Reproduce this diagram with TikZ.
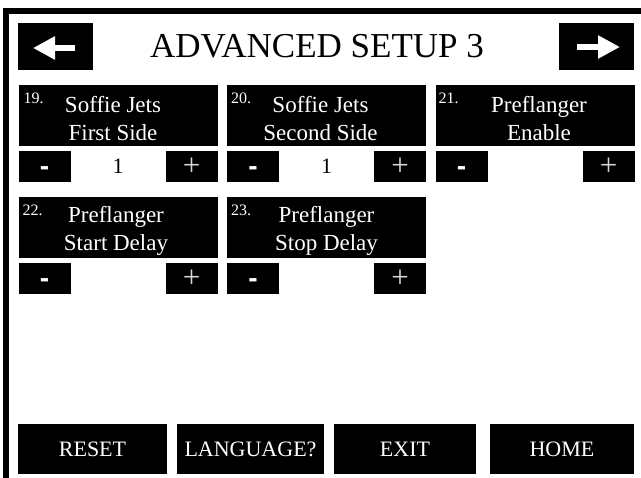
\documentclass[tikz,border=0pt]{standalone}
\usepackage{fontspec}
\setmainfont{Liberation Serif}
\newfontfamily\signfont{Liberation Sans}
\usetikzlibrary{arrows.meta,positioning}
\tikzset{%
    key/.style={fill=black,text=white,inner sep=0pt,outer sep=0pt},
    item/.style={key,minimum width=199pt,minimum height=61pt},
    btn/.style={key,minimum width=52pt,minimum height=31pt},
    bar/.style={key,minimum height=50pt,font=\fontsize{22}{26}\selectfont},
    nav/.style={key,minimum width=75pt,minimum height=47pt},
    num/.style={text=white,inner sep=0pt,anchor=north west,font=\fontsize{16}{16}\selectfont},
    itemtext/.style={text=white,inner sep=0pt,align=center,yshift=-3.5pt,font=\fontsize{23}{28}\selectfont},
    val/.style={inner sep=0pt,font=\fontsize{22}{22}\selectfont},
    plusbtn/.style={btn,text=white!85!black,font=\fontsize{31}{31}\selectfont},
    minusbtn/.style={btn,text height=19pt,text depth=0pt,font=\signfont\bfseries\fontsize{28}{28}\selectfont},
    navarrow/.style={white,line width=6pt,-{Triangle[length=22pt,width=22pt]}}
}

\begin{document}
\begin{tikzpicture}[x=1pt,y=-1pt]
    \useasboundingbox (0,0) rectangle (641,478);
    \draw[line width=6pt] (5.5,478) -- (5.5,11) -- (641,11);
    %%%%% header
    \node [nav] (back) at (55.5,46.5) {};
    \node [nav] (next) at (596.5,46.5) {};
    \node [anchor=base,inner sep=0pt,font=\fontsize{35}{35}\selectfont] (title) at (317,58) {ADVANCED SETUP 3};
    \draw[navarrow] ([shift={(19.5pt,-1.5pt)}]back.center) -- ([shift={(-22.5pt,-1.5pt)}]back.center);
    \draw[navarrow] ([shift={(-19.5pt,-0.5pt)}]next.center) -- ([shift={(23.5pt,-0.5pt)}]next.center);
    %%%%% first row
    \node [item] (s19) at (118,115.5) {};
    \node [item,right=9.5pt of s19] (s20) {};
    \node [item,right=9.5pt of s20] (s21) {};
    \node [num] (s19-n) at ([shift={(5pt,-8pt)}]s19.north west) {19.};
    \node [num] (s20-n) at ([shift={(4pt,-8pt)}]s20.north west) {20.};
    \node [num] (s21-n) at ([shift={(3pt,-8pt)}]s21.north west) {21.};
    \node [itemtext,xshift=-5pt] (s19-t) at (s19) {Soffie Jets\\First Side};
    \node [itemtext,xshift=-6pt] (s20-t) at (s20) {Soffie Jets\\Second Side};
    \node [itemtext,xshift=4pt] (s21-t) at (s21) {Preflanger\\Enable};
    \node [minusbtn,below right=5pt and 0pt of s19.south west] (s19-m) {-};
    \node [plusbtn,below left=5pt and 0pt of s19.south east] (s19-p) {+};
    \node [minusbtn,below right=5pt and 0pt of s20.south west] (s20-m) {-};
    \node [plusbtn,below left=5pt and 0pt of s20.south east] (s20-p) {+};
    \node [minusbtn,below right=5pt and 0pt of s21.south west] (s21-m) {-};
    \node [plusbtn,below left=5pt and 0pt of s21.south east] (s21-p) {+};
    \node [val] (s19-v) at (s19 |- s19-m) {1};
    \node [val] (s20-v) at (s20 |- s20-m) {1};
    %%%%% second row
    \node [item,below=51pt of s19] (s22) {};
    \node [item,right=9.5pt of s22] (s23) {};
    \node [num] (s22-n) at ([shift={(4pt,-8pt)}]s22.north west) {22.};
    \node [num] (s23-n) at ([shift={(4pt,-8pt)}]s23.north west) {23.};
    \node [itemtext,xshift=-2pt] (s22-t) at (s22) {Preflanger\\Start Delay};
    \node [itemtext] (s23-t) at (s23) {Preflanger\\Stop Delay};
    \node [minusbtn,below right=5pt and 0pt of s22.south west] (s22-m) {-};
    \node [plusbtn,below left=5pt and 0pt of s22.south east] (s22-p) {+};
    \node [minusbtn,below right=5pt and 0pt of s23.south west] (s23-m) {-};
    \node [plusbtn,below left=5pt and 0pt of s23.south east] (s23-p) {+};
    %%%%% bottom bar
    \node [bar,minimum width=149pt] (reset) at (92.5,449) {RESET};
    \node [bar,minimum width=147pt,right=10pt of reset] (lang) {LANGUAGE?};
    \node [bar,minimum width=142pt,right=10pt of lang] (exit) {EXIT};
    \node [bar,minimum width=144pt,right=14pt of exit] (home) {HOME};
\end{tikzpicture}
\end{document}
